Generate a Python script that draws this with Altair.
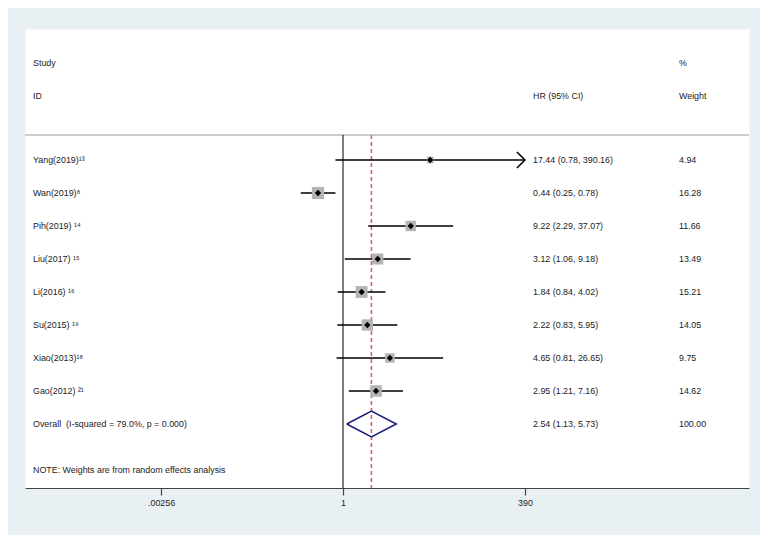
import altair as alt
import pandas as pd

# ---- data ----
studies = ["Yang(2019)¹³", "Wan(2019)⁸", "Pih(2019) ¹⁴", "Liu(2017) ¹⁵",
           "Li(2016) ¹⁶", "Su(2015) ¹⁹", "Xiao(2013)¹⁸", "Gao(2012) ²¹"]
hr = [17.44, 0.44, 9.22, 3.12, 1.84, 2.22, 4.65, 2.95]
ci_lo = [0.78, 0.25, 2.29, 1.06, 0.84, 0.83, 0.81, 1.21]
ci_hi = [390.16, 0.78, 37.07, 9.18, 4.02, 5.95, 26.65, 7.16]
weights = [4.94, 16.28, 11.66, 13.49, 15.21, 14.05, 9.75, 14.62]

overall_label = "Overall\u00a0 (I-squared = 79.0%, p = 0.000)"
overall_hr, overall_lo, overall_hi, overall_w = 2.54, 1.13, 5.73, 100.00
note_text = "NOTE: Weights are from random effects analysis"

tick_values = [0.00256, 1, 390]
tick_labels = [".00256", "1", "390"]

# ---- layout / style ----
FONT = "Liberation Sans"
FS = 8.9
TXT = "#222222"
W, H = 724, 459
Y_TOP, Y_BOT = -3.97, 9.94
SEP_Y = -0.76
NOTE_Y = 9.39

n = len(studies)
rows = list(range(n))
df = pd.DataFrame({
    "study": studies, "hr": hr, "lo": ci_lo, "hi": ci_hi, "w": weights, "row": rows,
})
df["hrtxt"] = [f"{a:.2f} ({b:.2f}, {c:.2f})" for a, b, c in zip(hr, ci_lo, ci_hi)]
df["wtxt"] = [f"{w:.2f}" for w in weights]

ov_row = n
text_df = pd.DataFrame({
    "study": studies + [overall_label],
    "hrtxt": list(df["hrtxt"]) + [f"{overall_hr:.2f} ({overall_lo:.2f}, {overall_hi:.2f})"],
    "wtxt": list(df["wtxt"]) + [f"{overall_w:.2f}"],
    "row": rows + [ov_row],
})

header_df = pd.DataFrame({
    "t": ["Study", "ID", "HR (95% CI)", "%", "Weight", note_text],
    "row": [-2.94, -1.94, -1.94, -2.94, -1.94, NOTE_Y],
    "col": ["a", "a", "b", "c", "c", "a"],
})

diamond_half = 0.39
diamond_df = pd.DataFrame({
    "x": [overall_lo, overall_hr, overall_hi, overall_hr, overall_lo],
    "row": [ov_row, ov_row - diamond_half, ov_row, ov_row + diamond_half, ov_row],
    "o": [0, 1, 2, 3, 4],
})

vline_df = pd.DataFrame({"x": [1.0], "y1": [SEP_Y], "y2": [Y_BOT]})
ovline_df = pd.DataFrame({"x": [overall_hr], "y1": [SEP_Y], "y2": [Y_BOT]})
sep_df = pd.DataFrame({"row": [SEP_Y]})
arrow_df = df[df["hi"] >= tick_values[-1]]

xscale = alt.Scale(type="log", domain=[2.95e-5, 6.07e5], nice=False)
yscale = alt.Scale(domain=[Y_TOP, Y_BOT], reverse=True, nice=False, zero=False)

expr = " : ".join(
    [f"abs(datum.value - {v}) < {v * 0.01} ? '{l}'" for v, l in zip(tick_values[:-1], tick_labels[:-1])]
) + f" : '{tick_labels[-1]}'"

xaxis = alt.Axis(values=tick_values, labelExpr=expr, grid=False, title=None,
                 domainColor="#444444", domainWidth=1.2, tickColor="#444444",
                 tickSize=7, tickWidth=1.2, labelFont=FONT, labelFontSize=FS,
                 labelColor=TXT, labelPadding=3)

Y = lambda f: alt.Y(f, type="quantitative", scale=yscale, axis=None)

sep = alt.Chart(sep_df).mark_rule(color="#bdbdbd", strokeWidth=1.5).encode(
    y=Y("row"), x=alt.value(0), x2=alt.value(W))

nullline = alt.Chart(vline_df).mark_rule(color="black", strokeWidth=1).encode(
    x=alt.X("x:Q", scale=xscale, axis=xaxis), y=Y("y1"), y2="y2")

ovline = alt.Chart(ovline_df).mark_rule(color="#cc6677", strokeWidth=1.6,
                                        strokeDash=[4, 3]).encode(
    x=alt.X("x:Q", scale=xscale), y=Y("y1"), y2="y2")

boxes = alt.Chart(df).mark_square(color="#b4b4b4", opacity=1).encode(
    x=alt.X("hr:Q", scale=xscale), y=Y("row"),
    size=alt.Size("w:Q", scale=alt.Scale(type="linear", domain=[0, 16.28], range=[0, 150]),
                  legend=None))

ci = alt.Chart(df).mark_rule(color="black", strokeWidth=1.6).encode(
    x=alt.X("lo:Q", scale=xscale), x2="hi:Q", y=Y("row"))

dots = alt.Chart(df).mark_point(shape="diamond", filled=True, color="black",
                                size=40, opacity=1).encode(
    x=alt.X("hr:Q", scale=xscale), y=Y("row"))

arrows = alt.Chart(arrow_df).mark_point(shape="M-1,-1L0,0L-1,1", filled=False,
                                        color="black", strokeWidth=1.6, size=256,
                                        opacity=1).encode(
    x=alt.X("hi:Q", scale=xscale), y=Y("row"))

diamond = alt.Chart(diamond_df).mark_line(color="#1c1f7c", strokeWidth=1.6).encode(
    x=alt.X("x:Q", scale=xscale), y=Y("row"), order="o:Q")

tstyle = dict(font=FONT, fontSize=FS, color=TXT, align="left", baseline="middle")

lab = alt.Chart(text_df).mark_text(**tstyle).encode(
    x=alt.value(8), y=Y("row"), text="study:N")
hrt = alt.Chart(text_df).mark_text(**tstyle).encode(
    x=alt.value(508), y=Y("row"), text="hrtxt:N")
wt = alt.Chart(text_df).mark_text(**tstyle).encode(
    x=alt.value(654), y=Y("row"), text="wtxt:N")

hdr_a = alt.Chart(header_df[header_df["col"] == "a"]).mark_text(**tstyle).encode(
    x=alt.value(8), y=Y("row"), text="t:N")
hdr_b = alt.Chart(header_df[header_df["col"] == "b"]).mark_text(**tstyle).encode(
    x=alt.value(508), y=Y("row"), text="t:N")
hdr_c = alt.Chart(header_df[header_df["col"] == "c"]).mark_text(**tstyle).encode(
    x=alt.value(654), y=Y("row"), text="t:N")

chart = alt.layer(
    sep, nullline, ovline, ci, boxes, dots, arrows, diamond,
    lab, hrt, wt, hdr_a, hdr_b, hdr_c,
).properties(
    width=W, height=H,
    autosize="none",
    padding={"left": 17, "top": 21, "right": 11, "bottom": 47},
    background="#e9f0f3",
).configure_view(fill="white", stroke="transparent")

chart.save("out.html", embed_options={"renderer": "svg", "actions": False})
